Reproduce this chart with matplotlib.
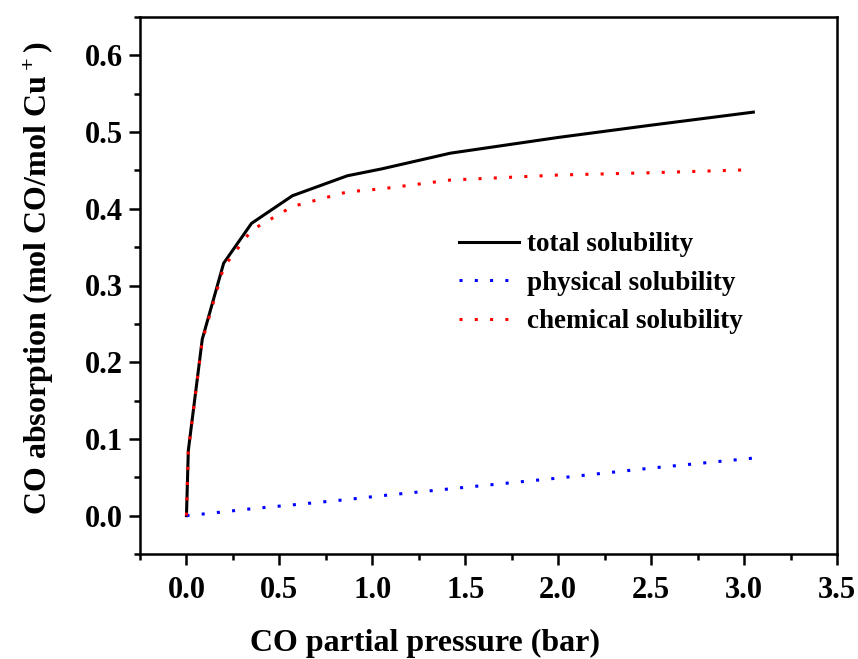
import matplotlib
matplotlib.use('Agg')
import matplotlib.pyplot as plt
from matplotlib.ticker import MultipleLocator

plt.rcParams['font.family'] = ['Liberation Serif', 'DejaVu Serif']
plt.rcParams['font.weight'] = 'bold'
plt.rcParams['mathtext.default'] = 'regular'

# CO partial pressure (bar)
pressure = [0.0, 0.01, 0.085, 0.20, 0.35, 0.57, 0.865, 1.05, 1.42, 2.0, 2.5, 3.05]
# solubility (mol CO / mol Cu+)
total = [0.0, 0.085, 0.230, 0.329, 0.381, 0.417, 0.443, 0.452, 0.4725, 0.493, 0.509, 0.526]
physical = [0.0, 0.0003, 0.002, 0.005, 0.009, 0.014, 0.021, 0.026, 0.035, 0.049, 0.062, 0.075]
chemical = [0.0, 0.085, 0.228, 0.324, 0.372, 0.403, 0.422, 0.426, 0.4375, 0.444, 0.447, 0.451]

fig = plt.figure(figsize=(8.58, 6.59), dpi=100)
ax = fig.add_axes([140/858, 1 - 554/659, (837-140)/858, (554-17)/659])

ax.plot(pressure, total, 'k-', lw=2.2, label='total solubility')
ax.plot(pressure, physical, color='blue', ls=(0, (1, 4)), lw=2.2, label='physical solubility')
ax.plot(pressure, chemical, color='red', ls=(0, (1, 4)), lw=2.2, label='chemical solubility')

ax.set_xlim(-0.25, 3.5)
ax.set_ylim(-0.05, 0.65)
ax.xaxis.set_major_locator(MultipleLocator(0.5))
ax.xaxis.set_minor_locator(MultipleLocator(0.25))
ax.yaxis.set_major_locator(MultipleLocator(0.1))
ax.yaxis.set_minor_locator(MultipleLocator(0.05))
ax.tick_params(which='major', direction='out', length=8, width=1.8, labelsize=22)
ax.tick_params(axis='x', which='major', pad=8)
ax.tick_params(axis='y', which='major', pad=4)
ax.tick_params(which='minor', direction='out', length=4.5, width=1.8)
for s in ax.spines.values():
    s.set_linewidth(1.8)
ax.xaxis.set_major_formatter(plt.FuncFormatter(lambda v, p: f'{v:.1f}'))
ax.yaxis.set_major_formatter(plt.FuncFormatter(lambda v, p: f'{v:.1f}'))

ax.set_xlabel('CO partial pressure (bar)', fontsize=23, fontweight='bold')
ax.set_ylabel('CO absorption (mol CO/mol Cu$^+$)', fontsize=23, fontweight='bold')
# labels sit a bit off-centre in the original
ax.xaxis.set_label_coords(0.409, -0.139)
ax.yaxis.set_label_coords(-0.12, 0.513)

ax.legend(loc='upper left', bbox_to_anchor=(0.423, 0.645), frameon=False, fontsize=19.5,
          handlelength=2.2, handletextpad=0.3, labelspacing=0.5)

fig.savefig('out.png', dpi=100)
